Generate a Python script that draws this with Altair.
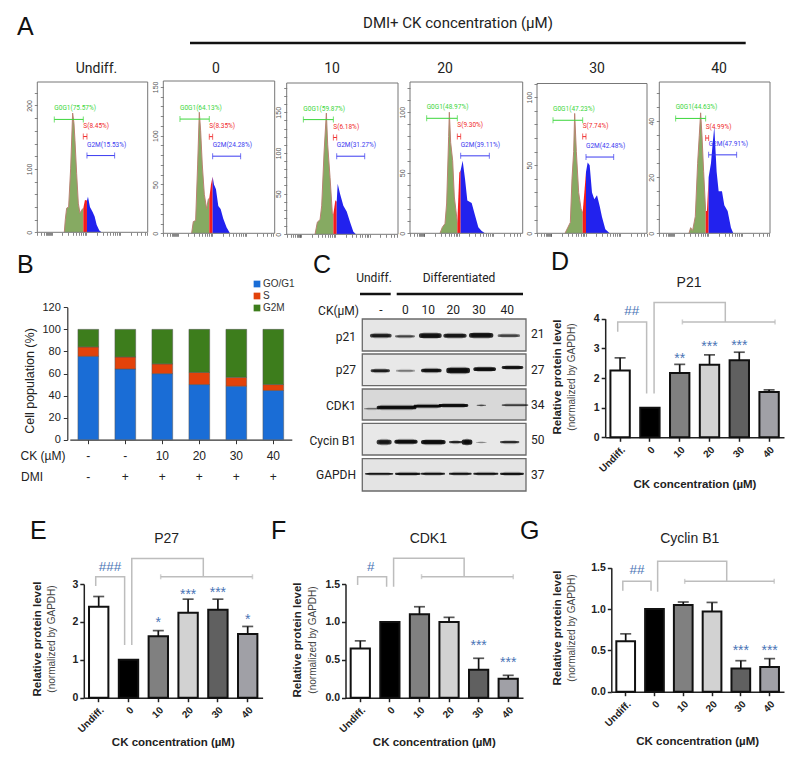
import altair as alt
import pandas as pd

W, H = 781, 742
SANS = "Liberation Sans"
NARROW = "Roboto"
BLUE_TXT = "#4a74b5"

# ---------- panel A: flow histograms ----------
HEADERS_A = ["Undiff.", "0", "10", "20", "30", "40"]
G1_PCT = [75.57, 64.13, 59.87, 48.97, 47.23, 44.63]
S_PCT = [8.45, 8.35, 6.18, 9.30, 7.74, 4.99]
G2_PCT = [15.53, 24.28, 31.27, 39.11, 42.48, 47.91]

CH_1 = [81, 84, 88, 94, 100, 106, 110, 113, 118, 123, 128, 133, 138, 143, 149, 152, 158, 166, 172, 178, 186, 193]
N_1 = [0, 20, 38, 40, 100, 188, 172, 145, 93, 46, 30, 35, 38, 51, 50, 56, 40, 32, 25, 12, 3, 0]
CH_2 = [85, 90, 97, 103, 108, 112, 117, 123, 130, 135, 138, 143, 148, 152, 158, 165, 172, 180, 190, 200]
N_2 = [0, 12, 13, 70, 124, 105, 70, 40, 25, 35, 36, 50, 58, 50, 45, 28, 25, 15, 6, 0]
CH_3 = [85, 92, 100, 105, 112, 119, 123, 130, 137, 140, 146, 150, 153, 160, 170, 180, 190, 200, 208]
N_3 = [0, 15, 18, 35, 100, 149, 110, 70, 25, 25, 42, 40, 62, 50, 35, 28, 15, 3, 0]
CH_4 = [90, 97, 105, 110, 116, 118, 122, 128, 133, 142, 148, 152, 158, 165, 172, 185, 195, 205, 215, 225]
N_4 = [0, 5, 8, 25, 80, 100, 75, 60, 30, 9, 50, 52, 60, 45, 27, 25, 15, 5, 2, 0]
CH_5 = [84, 92, 100, 105, 110, 113, 118, 125, 132, 137, 142, 147, 152, 158, 165, 172, 180, 188, 195, 205, 218]
N_5 = [0, 4, 8, 40, 60, 88, 60, 30, 18, 15, 30, 45, 52, 50, 30, 25, 28, 20, 12, 3, 0]
CH_6 = [89, 94, 100, 108, 115, 120, 124, 128, 133, 139, 143, 148, 155, 160, 165, 172, 178, 188, 195, 205, 215, 222]
N_6 = [0, 2, 1, 6, 25, 35, 43, 35, 22, 8, 8, 20, 25, 32, 38, 22, 15, 15, 10, 8, 2, 0]
HIST_CH = [CH_1, CH_2, CH_3, CH_4, CH_5, CH_6]
HIST_N = [N_1, N_2, N_3, N_4, N_5, N_6]

GATE_G = [[51, 138], [50, 138], [50, 140], [50, 142], [48, 137], [49, 139]]
GATE_S = [[138, 149], [138, 148], [140, 150], [142, 152], [137, 147], [139, 148]]
GATE_M = [[149, 232], [148, 232], [150, 234], [152, 238], [147, 230], [148, 232]]
GATE_G_Y = [178, 117, 141, 95, 83, 41]
GATE_S_Y = [151, 99, 119, 80, 71, 34]
GATE_M_Y = [121, 79, 96, 64, 56, 28]
HIST_YMAX = [237, 156, 186, 125, 110, 54]
HIST_MAJOR = [[0, 100, 200], [0, 50, 100, 150], [0, 50, 100, 150], [0, 50, 100], [0, 50, 100], [0, 20, 40]]
HIST_STEP = [20, 10, 10, 10, 10, 5]
LOG_TICKS = [0, 12, 20, 26, 30, 33, 36, 39, 41, 43, 75, 93, 106, 116, 124, 131, 137, 142, 146,
             178, 196, 209, 219, 227, 234, 240, 245, 249, 281, 299, 312, 322, 330]
FRAME_PX = [(37.3, 147.7, 232.3, 82), (163.3, 274.7, 233.3, 81), (286.7, 398, 234.3, 83),
            (410, 522.7, 233.3, 82), (537, 647, 233.3, 83.5), (659.3, 770, 233.3, 82)]

# ---------- panel B ----------
B_COND = ["a", "b", "10", "20", "30", "40"]
B_G1 = [75.6, 64.1, 59.9, 50.0, 48.5, 44.6]
B_S = [8.5, 10.9, 8.8, 11.0, 8.0, 5.4]
B_PHASES = ["GO/G1", "S", "G2M"]
B_COLORS = ["#1a6dd6", "#e2420a", "#3d7d1c"]
B_CK = ["-", "-", "10", "20", "30", "40"]
B_DMI = ["-", "+", "+", "+", "+", "+"]

# ---------- panel C: blots [start, end, centre, thickness, darkness] ----------
BLOT_NAMES = ["p21", "p27", "CDK1", "Cycin B1", "GAPDH"]
BLOT_KDA = ["21", "27", "34", "50", "37"]
BLOT_BG = ["#e6e6e6", "#e8e8e8", "#d8d8d8", "#e8e8e8", "#e4e4e4"]
BLOT_PX = [(319, 351), (354, 385.7), (389, 420), (423.3, 455), (458.7, 491)]
BANDS = [
    [[215, 270, 50, 11, .85], [290, 340, 52, 7, .6], [362, 420, 50, 14, .95], [435, 495, 50, 12, .9], [512, 575, 49, 14, .95], [598, 655, 50, 8, .6]],
    [[217, 265, 51, 9, .85], [293, 340, 51, 6, .35], [368, 420, 50, 11, .95], [444, 505, 50, 17, 1], [525, 583, 46, 11, 1], [610, 665, 41, 9, .95]],
    [[197, 235, 61, 3, .5], [235, 345, 57, 11, 1], [345, 420, 53, 9, 1], [420, 500, 51, 9, 1], [535, 553, 51, 4, .55], [610, 680, 50, 5, .65]],
    [[235, 270, 57, 14, .9], [288, 348, 56, 12, 1], [368, 432, 57, 13, 1], [452, 482, 57, 7, .8], [490, 512, 57, 16, 1], [533, 555, 58, 3, .3], [605, 653, 57, 7, .75]],
    [[200, 275, 45, 5, .9], [290, 357, 45, 7, .95], [368, 430, 45, 6, .95], [452, 510, 45, 6, .95], [525, 590, 45, 6, .95], [605, 667, 45, 7, .95]],
]
LANE_LABELS = ["-", "0", "10", "20", "30", "40"]
LANE_X = [243, 316, 385, 460, 537, 622]

# ---------- panels D-G ----------
CATS = ["Undiff.", "0", "10", "20", "30", "40"]
BAR_COLORS = ["#ffffff", "#000000", "#808080", "#d2d2d2", "#606060", "#a0a0a6"]

D_MEAN = [2.25, 1.0, 2.17, 2.45, 2.6, 1.53]
D_TOP = [2.68, 1.0, 2.46, 2.78, 2.87, 1.6]
D_BR_X = [[-.08, -.08, .89, .89], [1.14, 1.14, 3.53, 3.53], [2.09, 5.2]]
D_BR_Y = [[3.56, 3.89, 3.89, 1.48], [1.48, 4.55, 4.55, 3.89], [3.89, 3.89]]
D_STAR = [(2, 2.74, "**"), (3, 3.13, "***"), (4, 3.19, "***")]
D_HASH = (.39, 4.27, "##")

E_MEAN = [2.4, 1.0, 1.62, 2.24, 2.32, 1.68]
E_TOP = [2.67, 1.0, 1.77, 2.6, 2.6, 1.88]
E_BR_X = [[-.1, -.1, .87, .87], [1.11, 1.11, 3.51, 3.51], [2.08, 5.16]]
E_BR_Y = [[2.95, 3.19, 3.19, 1.39], [1.39, 3.67, 3.67, 3.19], [3.19, 3.19]]
E_STAR = [(2, 2.05, "*"), (3, 2.80, "***"), (4, 2.83, "***"), (5, 2.14, "*")]
E_HASH = (.38, 3.46, "###")

F_MEAN = [.65, 1.0, 1.1, 1.0, .37, .25]
F_TOP = [.75, 1.0, 1.2, 1.06, .52, .295]
F_BR_X = [[-.09, -.09, .89, .89], [1.126, 1.126, 3.51, 3.51], [2.07, 5.17]]
F_BR_Y = [[1.487, 1.597, 1.597, 1.465], [1.465, 1.839, 1.839, 1.597], [1.597, 1.597]]
F_STAR = [(4, .726, "***"), (5, .497, "***")]
F_HASH = (.35, 1.73, "#")

G_MEAN = [.61, 1.0, 1.05, .97, .28, .30]
G_TOP = [.70, 1.0, 1.085, 1.08, .375, .40]
G_BR_X = [[-.1, -.1, .88, .88], [1.11, 1.11, 3.51, 3.51], [2.05, 5.16]]
G_BR_Y = [[1.222, 1.335, 1.335, 1.222], [1.21, 1.577, 1.577, 1.335], [1.335, 1.335]]
G_STAR = [(4, .524, "***"), (5, .524, "***")]
G_HASH = (.39, 1.47, "##")

layers = []
ONE = pd.DataFrame({"_": [0]})


def rng(dom, a, b):
    return alt.Scale(domain=list(dom), range=[a - 8, b - 8], nice=False, zero=False)


def T(s, x, y, size=12, font=SANS, weight="normal", color="#222222", align="center", baseline="middle", angle=0):
    layers.append(
        alt.Chart(ONE)
        .mark_text(fontSize=size, font=font, fontWeight=weight, color=color, align=align, baseline=baseline, angle=angle)
        .encode(x=alt.value(x - 8), y=alt.value(y - 8), text=alt.value(s))
    )


def R(x0, x1, y, width=2.5, color="#111111"):
    layers.append(
        alt.Chart(ONE).mark_rule(color=color, strokeWidth=width)
        .encode(x=alt.value(x0 - 8), x2=alt.value(x1 - 8), y=alt.value(y - 8))
    )


# letters
for s, x, y in [("A", 17, 35), ("B", 17, 273), ("C", 313, 273), ("D", 551, 270), ("E", 30, 539), ("F", 271, 539), ("G", 520, 539)]:
    T(s, x, y, size=25, align="left", baseline="alphabetic", color="#111111")

# ---------- A ----------
T("DMI+ CK concentration (µM)", 458, 23, size=15, font=NARROW)
R(190, 745.7, 43, width=2.5)
HEAD_X = [96.5, 216, 332, 445, 597, 719]
for i in range(6):
    l, r, b, t = FRAME_PX[i]
    T(HEADERS_A[i], HEAD_X[i], 69, size=14, font=NARROW)
    xmax = (r - l) * 3
    sxx = rng([0, xmax], l, r)
    syy = rng([0, HIST_YMAX[i]], b, t)
    ch, n = HIST_CH[i], HIST_N[i]
    rows = []
    for c, v in zip(ch, n):
        if c <= GATE_S[i][0]:
            rows.append({"c": c, "n": v, "phase": "G"})
        if GATE_S[i][0] <= c <= GATE_S[i][1]:
            rows.append({"c": c, "n": v, "phase": "S"})
        if c >= GATE_S[i][1]:
            rows.append({"c": c, "n": v, "phase": "M"})
    df = pd.DataFrame(rows)
    layers.append(
        alt.Chart(df).mark_area(interpolate="linear").encode(
            x=alt.X("c:Q", scale=sxx, axis=None),
            y=alt.Y("n:Q", scale=syy, axis=None, stack=None),
            color=alt.Color("phase:N", legend=None,
                            scale=alt.Scale(domain=["G", "S", "M"], range=["#86aa62", "#f41c1c", "#2222ee"])),
        )
    )
    gdf = df[df.phase == "G"]
    layers.append(
        alt.Chart(gdf).mark_line(color="#b98272", strokeWidth=1).encode(
            x=alt.X("c:Q", scale=sxx, axis=None),
            y=alt.Y("n:Q", scale=syy, axis=None),
        )
    )
    minor = list(range(0, HIST_YMAX[i] + 1, HIST_STEP[i]))
    majors = HIST_MAJOR[i]
    cond = " || ".join(f"datum.value == {m}" for m in majors)
    frame = pd.DataFrame({"x0": [0], "x1": [xmax], "y0": [0], "y1": [HIST_YMAX[i]]})
    layers.append(
        alt.Chart(frame).mark_rect(fillOpacity=0, stroke="#777777", strokeWidth=1).encode(
            x=alt.X("x0:Q", scale=sxx, axis=alt.Axis(
                orient="bottom", offset=(b - 8) - H, values=[v for v in LOG_TICKS if v <= xmax], labels=False, title=None,
                domain=False, grid=False, tickSize=3, tickColor="#555555", tickWidth=.7)),
            x2="x1:Q",
            y=alt.Y("y0:Q", scale=syy, axis=alt.Axis(
                orient="left", offset=-(l - 8), values=minor, title=None, grid=False, domain=False,
                tickSize=3, tickColor="#555555", tickWidth=.7, labelAngle=270, labelAlign="center",
                labelBaseline="bottom", labelFontSize=7, labelColor="#555555", labelPadding=2,
                labelExpr=f"({cond}) ? datum.label : ''", labelOverlap=False)),
            y2="y1:Q",
        )
    )
    pct = [f"G0G1({G1_PCT[i]:.2f}%)", f"S({S_PCT[i]:.2f}%)", f"G2M({G2_PCT[i]:.2f}%)"]
    for gate, gy, col, lab in zip([GATE_G[i], GATE_S[i], GATE_M[i]], [GATE_G_Y[i], GATE_S_Y[i], GATE_M_Y[i]],
                                  ["#3bd63b", "#f02a2a", "#3a3af0"], pct):
        gd = pd.DataFrame({"a": [gate[0]], "b": [gate[1]], "y": [gy], "s": [lab]})
        enc_x = alt.X("a:Q", scale=sxx, axis=None)
        enc_y = alt.Y("y:Q", scale=syy, axis=None)
        layers.append(alt.Chart(gd).mark_rule(color=col, strokeWidth=1).encode(x=enc_x, x2="b:Q", y=enc_y))
        caps = pd.DataFrame({"a": gate, "y": [gy, gy]})
        layers.append(alt.Chart(caps).mark_tick(color=col, orient="vertical", size=6, thickness=1).encode(x=enc_x, y=enc_y))
        layers.append(alt.Chart(gd).mark_text(color=col, fontSize=6.5, font=NARROW, align="left", dy=-11).encode(x=enc_x, y=enc_y, text="s:N"))

# ---------- B ----------
bx = alt.Scale(domain=B_COND, range=[69.8 - 8, 291.8 - 8], paddingInner=.44, paddingOuter=.22)
by = rng([0, 120], 439.7, 307.3)
rows = []
for i, c in enumerate(B_COND):
    g, s = B_G1[i], B_S[i]
    rows += [{"c": c, "p": "GO/G1", "a": 0, "b": g}, {"c": c, "p": "S", "a": g, "b": g + s}, {"c": c, "p": "G2M", "a": g + s, "b": 100}]
layers.append(
    alt.Chart(pd.DataFrame(rows)).mark_bar(stroke="#555555", strokeWidth=.5).encode(
        x=alt.X("c:N", scale=bx, sort=B_COND, axis=alt.Axis(
            orient="bottom", offset=(439.7 - 8) - H, labels=False, title=None, tickSize=4, tickColor="#333333",
            domainColor="#333333", domainWidth=1.2, grid=False)),
        y=alt.Y("a:Q", scale=by, axis=alt.Axis(
            orient="left", offset=-(67.3 - 8), values=list(range(0, 121, 20)), title=None, tickSize=4, grid=False,
            tickColor="#333333", domainColor="#333333", domainWidth=1.2, labelFontSize=11, labelColor="#222222", labelPadding=3)),
        y2="b:Q",
        color=alt.Color("p:N", scale=alt.Scale(domain=B_PHASES, range=B_COLORS),
                        legend=alt.Legend(orient="none", legendX=252 - 8, legendY=279 - 8, title=None, symbolType="square",
                                          symbolSize=45, labelFontSize=10, labelFont=SANS, labelColor="#333333",
                                          labelOffset=1, rowPadding=2, padding=0, symbolStrokeWidth=0)),
    )
)
T("Cell population  (%)", 30, 381, size=12.5, angle=270)
T("CK (µM)", 43, 456, size=12)
T("DMI", 32, 477, size=12)
rows = [{"c": c, "r": "CK", "s": s} for c, s in zip(B_COND, B_CK)] + [{"c": c, "r": "DMI", "s": s} for c, s in zip(B_COND, B_DMI)]
layers.append(
    alt.Chart(pd.DataFrame(rows)).mark_text(fontSize=12, color="#222222").encode(
        x=alt.X("c:N", scale=bx, sort=B_COND, axis=None),
        y=alt.Y("r:N", scale=alt.Scale(type="point", domain=["CK", "DMI"], range=[456 - 8, 477 - 8], padding=0), axis=None),
        text="s:N",
    )
)

# ---------- C ----------
T("Undiff.", 374, 278, size=12, font=NARROW)
T("Differentiated", 459, 278, size=12, font=NARROW)
R(360, 390.7, 294, width=2.5)
R(396.7, 523, 294, width=2.5)
T("CK(µM)", 359, 311, size=12, font=NARROW, align="right")
for s, zx in zip(LANE_LABELS, LANE_X):
    T(s, 300 + zx / 3, 310, size=12, font=NARROW)
BLOT_LABEL_Y = [337, 370, 406, 441, 475]
KDA_Y = [334, 370, 405, 440, 475]
for i, name in enumerate(BLOT_NAMES):
    top, bot = BLOT_PX[i]
    xs = rng([187, 678], 362.3, 526)
    ys = rng([0, 96], top, bot)
    frame = pd.DataFrame({"a": [187], "b": [678], "c": [0], "d": [96]})
    layers.append(
        alt.Chart(frame).mark_rect(fill=BLOT_BG[i], stroke="#6a6a6a", strokeWidth=1.3).encode(
            x=alt.X("a:Q", scale=xs, axis=None), x2="b:Q", y=alt.Y("c:Q", scale=ys, axis=None), y2="d:Q")
    )
    b = pd.DataFrame(BANDS[i], columns=["s", "e", "m", "t", "k"])
    # soft halo, then tapered wings, then the dense core of each band
    parts = [
        (-4, 3, 0.0, .22), (0, 1, .5, .55), (5, 0, 1.0, .85),
    ]
    for grow_x, grow_y, tk, alpha in parts:
        p = b.copy()
        p["x0"], p["x1"] = p.s - grow_x, p.e + grow_x
        half = p.t / 2 * (tk if tk else 1) + grow_y
        p["y0"], p["y1"] = p.m - half, p.m + half
        p["a"] = p.k * alpha
        p.loc[p.x1 < p.x0 + 6, "a"] = 0
        layers.append(
            alt.Chart(p).mark_rect(color="#000000", cornerRadius=2).encode(
                x=alt.X("x0:Q", scale=xs, axis=None), x2="x1:Q", y=alt.Y("y0:Q", scale=ys, axis=None), y2="y1:Q",
                opacity=alt.Opacity("a:Q", scale=None))
        )
    T(name, 356, BLOT_LABEL_Y[i], size=12, font=NARROW, align="right")
    T(BLOT_KDA[i], 531, KDA_Y[i], size=12, font=NARROW, align="left")


# ---------- D-G ----------
def bars(title, mean, top, ymax, ticks, fmt, xr, yr, br_x, br_y, stars, hsh, title_xy, ytitle_x, ytitle2_x, ytitle_y, xtitle_xy):
    sb = alt.Scale(domain=CATS, range=[xr[0] - 8, xr[1] - 8], paddingInner=.35, paddingOuter=.175)
    sp = rng([-.5, 5.5], xr[0], xr[1])
    sv = rng([0, ymax], yr[0], yr[1])
    df = pd.DataFrame({"c": CATS, "m": mean, "t": top})
    layers.append(
        alt.Chart(df).mark_bar(stroke="#111111", strokeWidth=2).encode(
            x=alt.X("c:N", scale=sb, sort=CATS, axis=alt.Axis(
                orient="bottom", offset=(yr[0] - 8) - H, title=None, grid=False, labelAngle=-45, labelFontSize=10,
                labelFontWeight="bold", labelColor="#222222", tickSize=4, tickWidth=1.5, tickColor="#222222",
                domainWidth=1.5, domainColor="#222222", labelPadding=3)),
            y=alt.Y("m:Q", scale=sv, stack=None, axis=alt.Axis(
                orient="left", offset=-(xr[0] - 8), title=None, grid=False, values=ticks, format=fmt, labelFontSize=10.5,
                labelFontWeight="bold", labelColor="#222222", tickSize=4, tickWidth=1.5, tickColor="#222222",
                domainWidth=1.5, domainColor="#222222", labelPadding=2)),
            color=alt.Color("c:N", scale=alt.Scale(domain=CATS, range=BAR_COLORS), legend=None),
        )
    )
    ed = df[df.t > df.m]
    layers.append(alt.Chart(ed).mark_rule(color="#111111", strokeWidth=1.7).encode(
        x=alt.X("c:N", scale=sb, sort=CATS, axis=None), y=alt.Y("m:Q", scale=sv, axis=None), y2="t:Q"))
    layers.append(alt.Chart(ed).mark_tick(color="#111111", orient="horizontal", size=11, thickness=1.7).encode(
        x=alt.X("c:N", scale=sb, sort=CATS, axis=None), y=alt.Y("t:Q", scale=sv, axis=None)))
    rows = []
    for k, (xs, ys) in enumerate(zip(br_x, br_y)):
        for j, (a, b) in enumerate(zip(xs, ys)):
            rows.append({"k": k, "j": j, "x": a, "y": b})
    bd = pd.DataFrame(rows)
    layers.append(alt.Chart(bd).mark_line(color="#bdbdbd", strokeWidth=1.5).encode(
        x=alt.X("x:Q", scale=sp, axis=None), y=alt.Y("y:Q", scale=sv, axis=None), detail="k:N", order="j:Q"))
    layers.append(alt.Chart(bd[bd.k == 2]).mark_tick(color="#bdbdbd", orient="vertical", size=5, thickness=1.5).encode(
        x=alt.X("x:Q", scale=sp, axis=None), y=alt.Y("y:Q", scale=sv, axis=None)))
    sd = pd.DataFrame(stars, columns=["x", "y", "s"])
    layers.append(alt.Chart(sd).mark_text(color=BLUE_TXT, fontSize=14, dy=3).encode(
        x=alt.X("x:Q", scale=sp, axis=None), y=alt.Y("y:Q", scale=sv, axis=None), text="s:N"))
    hd = pd.DataFrame([hsh], columns=["x", "y", "s"])
    layers.append(alt.Chart(hd).mark_text(color=BLUE_TXT, fontSize=13.5).encode(
        x=alt.X("x:Q", scale=sp, axis=None), y=alt.Y("y:Q", scale=sv, axis=None), text="s:N"))
    T(title, title_xy[0], title_xy[1], size=14, color="#222222")
    T("Relative protein level", ytitle_x, ytitle_y, size=11.5, weight="bold", angle=270)
    T("(normalized by GAPDH)", ytitle2_x, ytitle_y, size=10, color="#444444", angle=270)
    T("CK concentration (µM)", xtitle_xy[0], xtitle_xy[1], size=11.5, weight="bold")


bars("P21", D_MEAN, D_TOP, 4, [0, 1, 2, 3, 4], "d", (605.2, 784), (437.3, 318.7), D_BR_X, D_BR_Y, D_STAR, D_HASH,
     (689, 283), 558, 572, 377, (695, 485))
bars("P27", E_MEAN, E_TOP, 3, [0, 1, 2, 3], "d", (83.8, 262.6), (697.7, 584), E_BR_X, E_BR_Y, E_STAR, E_HASH,
     (166.7, 539), 37.7, 51.7, 639, (173.3, 742.7))
bars("CDK1", F_MEAN, F_TOP, 1.5, [0, .5, 1, 1.5], ".1f", (345.5, 523), (697.7, 584), F_BR_X, F_BR_Y, F_STAR, F_HASH,
     (428.3, 539.3), 297.7, 313.3, 640, (434.3, 742.7))
bars("Cyclin B1", G_MEAN, G_TOP, 1.5, [0, .5, 1, 1.5], ".1f", (611.3, 784), (691.7, 567.7), G_BR_X, G_BR_Y, G_STAR, G_HASH,
     (689.7, 539.3), 557.7, 572, 628, (697.7, 741.7))

chart = (
    alt.layer(*layers)
    .resolve_scale(x="independent", y="independent", color="independent", opacity="independent")
    .properties(width=W, height=H, padding=0, autosize=alt.AutoSizeParams(type="none"), background="#ffffff")
    .configure_view(stroke=None)
    .configure_axis(labelFont=SANS, titleFont=SANS)
    .configure_text(font=SANS)
)
chart.save("out.html", embed_options={"renderer": "svg", "actions": False})
